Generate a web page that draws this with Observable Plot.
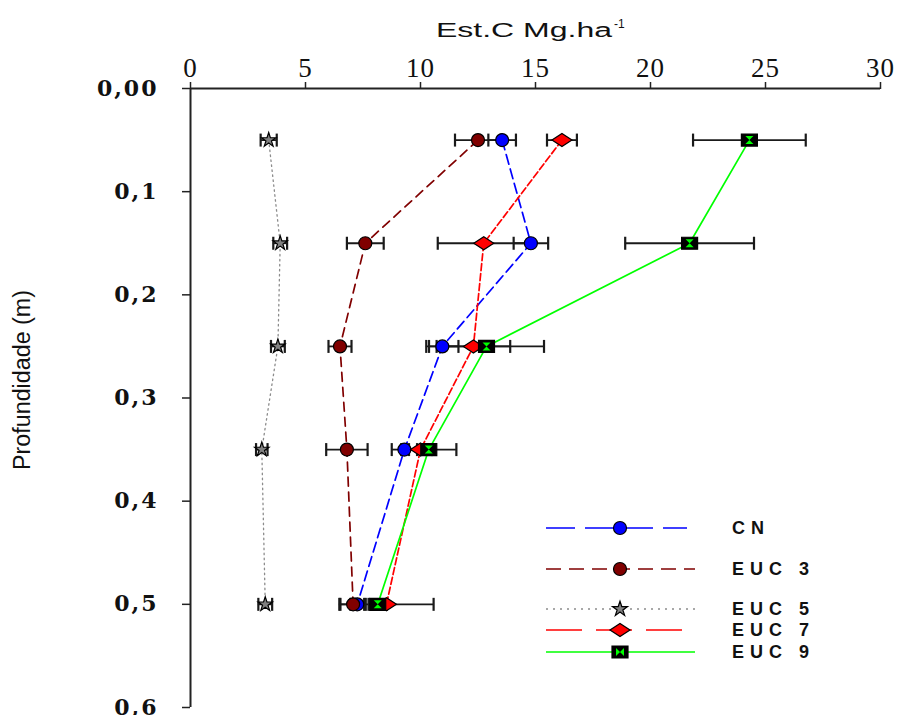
<!DOCTYPE html>
<html>
<head>
<meta charset="utf-8">
<script src="https://cdn.jsdelivr.net/npm/d3@7"></script>
<script src="https://cdn.jsdelivr.net/npm/@observablehq/plot@0.6"></script>
<style>
  body { margin: 0; background: #fff; }
  #chart svg { display: block; }
  g[aria-label="y-axis tick label"] text { letter-spacing: 2px; }
  g[aria-label="x-axis tick label"] text { letter-spacing: 1px; }
</style>
</head>
<body>
<div id="chart"></div>
<script>
// Soil depth (m) of each sampling layer
const depths = [0.05, 0.15, 0.25, 0.35, 0.50];

// Carbon stock (Mg/ha) per stand and its error (±)
const cnMean   = [13.55, 14.8, 10.95, 9.3, 7.25];
const cnErr    = [0.6, 0.75, 0.7, 0.55, 0.3];
const euc3Mean = [12.5, 7.6, 6.5, 6.8, 7.07];
const euc3Err  = [1.0, 0.8, 0.5, 0.9, 0.55];
const euc5Mean = [3.4, 3.9, 3.8, 3.1, 3.25];
const euc5Err  = [0.35, 0.3, 0.3, 0.25, 0.3];
const euc7Mean = [16.15, 12.75, 12.3, 10.0, 8.52];
const euc7Err  = [0.65, 2.0, 1.6, 0.5, 2.05];
const euc9Mean = [24.3, 21.7, 12.87, 10.36, 8.14];
const euc9Err  = [2.45, 2.8, 2.5, 1.2, 0.4];

const seriesNames = ["CN", "EUC 3", "EUC 5", "EUC 7", "EUC 9"];

// Axis ticks
const xTicks = [0, 5, 10, 15, 20, 25, 30];
const yTicks = [0, 0.1, 0.2, 0.3, 0.4, 0.5, 0.6];
const yTickLabels = ["0,00", "0,1", "0,2", "0,3", "0,4", "0,5", "0,6"];

const xTitle = "Est.C Mg.ha";
const xTitleSup = "-1";
const yTitle = "Profundidade (m)";

// Marker shapes
const circleSym = {draw(ctx) { ctx.moveTo(6.5, 0); ctx.arc(0, 0, 6.5, 0, 2 * Math.PI); }};
const diamondSym = {draw(ctx) { ctx.moveTo(-10, 0); ctx.lineTo(0, -6.5); ctx.lineTo(10, 0); ctx.lineTo(0, 6.5); ctx.closePath(); }};
const rectSym = {draw(ctx) { ctx.rect(-8, -6, 16, 12); }};
const hourglassSym = {draw(ctx) { ctx.moveTo(-4, -4); ctx.lineTo(4, -4); ctx.lineTo(-4, 4); ctx.lineTo(4, 4); ctx.closePath(); }};
const capSym = {draw(ctx) { ctx.moveTo(0, -6.5); ctx.lineTo(0, 6.5); }};

const styles = [
  {name: "CN",    color: "#0000ff", dash: "10,5",    legendDash: "29,10", symbol: circleSym,  fill: "#0000ff"},
  {name: "EUC 3", color: "#800000", dash: "9,6",     legendDash: "15,8",  symbol: circleSym,  fill: "#800000"},
  {name: "EUC 5", color: "#8c8c8c", dash: "1.5,3.5", legendDash: "2,5",   symbol: "star",     fill: "#808080"},
  {name: "EUC 7", color: "#ff0000", dash: "7,3",     legendDash: "36,14", symbol: diamondSym, fill: "#ff0000"},
  {name: "EUC 9", color: "#00ff00", dash: null,      legendDash: null,    symbol: rectSym,    fill: "#000000"}
];

const means = [cnMean, euc3Mean, euc5Mean, euc7Mean, euc9Mean];
const errs = [cnErr, euc3Err, euc5Err, euc7Err, euc9Err];

const rows = [];
seriesNames.forEach((s, i) => {
  depths.forEach((d, j) => rows.push({series: s, depth: d, value: means[i][j], err: errs[i][j]}));
});

const caps = rows.flatMap(r => [
  {depth: r.depth, x: r.value - r.err},
  {depth: r.depth, x: r.value + r.err}
]);

const marks = [];
styles.forEach(s => {
  marks.push(Plot.line(rows.filter(r => r.series === s.name), {
    x: "value", y: "depth", stroke: s.color, strokeWidth: s.name === "EUC 5" ? 1.3 : 1.7,
    strokeDasharray: s.dash || undefined
  }));
});
marks.push(Plot.ruleY(rows, {y: "depth", x1: r => r.value - r.err, x2: r => r.value + r.err, stroke: "#1a1a1a", strokeWidth: 1.8}));
marks.push(Plot.dot(caps, {x: "x", y: "depth", symbol: capSym, stroke: "#1a1a1a", strokeWidth: 2.2, fill: "none"}));
styles.forEach(s => {
  marks.push(Plot.dot(rows.filter(r => r.series === s.name), {
    x: "value", y: "depth", symbol: s.symbol, r: s.symbol === "star" ? 4.5 : 3,
    fill: s.fill, stroke: "#000", strokeWidth: 1.2
  }));
});
marks.push(Plot.dot(rows.filter(r => r.series === "EUC 9"), {
  x: "value", y: "depth", symbol: hourglassSym, fill: "#00ff00", stroke: "none"
}));

const chart = Plot.plot({
  width: 898,
  height: 715,
  marginLeft: 190,
  marginTop: 88,
  marginRight: 18,
  marginBottom: 8,
  style: {fontFamily: "Liberation Serif", fontSize: "22px", color: "#111", background: "#fff"},
  x: {domain: [0, 30]},
  y: {domain: [0, 0.6], reverse: true},
  marks: [
    Plot.axisX({anchor: "top", ticks: xTicks, tickSize: 7, tickPadding: 5, label: null,
      fontFamily: "Liberation Serif", fontSize: 27, stroke: "#222", strokeWidth: 1.5}),
    Plot.axisY({anchor: "left", ticks: yTicks, tickSize: 8, tickPadding: 24, label: null,
      tickFormat: d => yTickLabels[yTicks.findIndex(t => Math.abs(t - d) < 1e-9)],
      fontFamily: "DejaVu Serif", fontSize: 22, fontWeight: "bold", stroke: "#222", strokeWidth: 1.5}),
    Plot.ruleY([0], {stroke: "#222", strokeWidth: 2}),
    Plot.ruleX([0], {stroke: "#222", strokeWidth: 2}),
    ...marks
  ]
});

const svg = d3.select(chart);

// Axis titles
svg.append("text")
  .attr("x", 436).attr("y", 37)
  .attr("text-anchor", "start")
  .attr("font-family", "Liberation Sans").attr("font-size", 20).attr("fill", "#111")
  .attr("textLength", 176).attr("lengthAdjust", "spacingAndGlyphs")
  .text(xTitle);
svg.append("text")
  .attr("x", 614).attr("y", 28)
  .attr("text-anchor", "start")
  .attr("font-family", "Liberation Sans").attr("font-size", 12).attr("fill", "#111")
  .text(xTitleSup);
svg.append("text")
  .attr("transform", "translate(30,380) rotate(-90)")
  .attr("text-anchor", "middle")
  .attr("font-family", "Liberation Sans").attr("font-size", 23).attr("fill", "#111")
  .attr("textLength", 180).attr("lengthAdjust", "spacingAndGlyphs")
  .text(yTitle);

// Legend
const legendRows = [528, 569, 609, 630, 652];
const legendEnds = [687, 695, 695, 683, 695];
const lg = svg.append("g");
styles.forEach((s, i) => {
  const y = legendRows[i];
  lg.append("line")
    .attr("x1", 546).attr("x2", legendEnds[i]).attr("y1", y).attr("y2", y)
    .attr("stroke", s.color).attr("stroke-width", 1.7)
    .attr("stroke-dasharray", s.legendDash);
  let path;
  if (s.symbol === "star") path = d3.symbol(d3.symbolStar, 70)();
  else { const p = d3.path(); s.symbol.draw(p); path = p.toString(); }
  lg.append("path").attr("transform", `translate(620,${y})`)
    .attr("d", path).attr("fill", s.fill).attr("stroke", "#000").attr("stroke-width", 1.2);
  if (s.name === "EUC 9") {
    const p = d3.path(); hourglassSym.draw(p);
    lg.append("path").attr("transform", `translate(620,${y}) rotate(90)`)
      .attr("d", p.toString()).attr("fill", "#00ff00");
  }
  lg.append("text")
    .attr("x", 732).attr("y", y + 6)
    .attr("text-anchor", "start")
    .attr("font-family", "Liberation Sans").attr("font-size", 18).attr("font-weight", "bold").attr("fill", "#111")
    .style("letter-spacing", "6px")
    .text(s.name);
});

document.getElementById("chart").appendChild(chart);
</script>
</body>
</html>
